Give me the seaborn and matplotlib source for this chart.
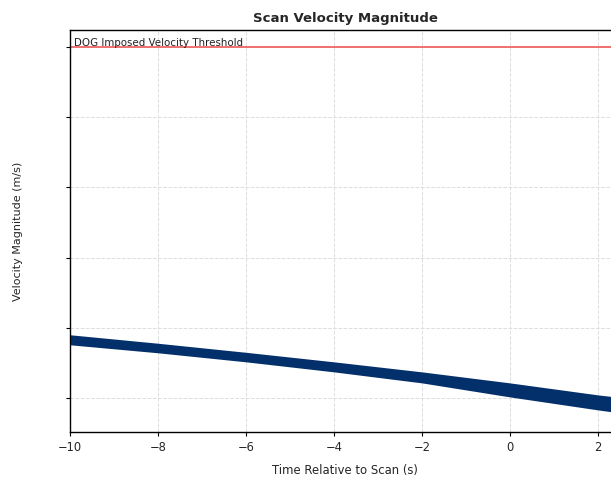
import matplotlib
matplotlib.use("Agg")
import matplotlib.pyplot as plt
import seaborn as sns
import pandas as pd

# data
time_s = [-10, -8, -6, -4, -2, 0, 2, 3]
vel_upper = [1.900, 1.779, 1.650, 1.514, 1.371, 1.214, 1.043, 0.971]
vel_lower = [1.757, 1.643, 1.514, 1.371, 1.214, 1.014, 0.829, 0.743]
threshold = 6.0
x_ticks = [-10, -8, -6, -4, -2, 0, 2]
y_ticks = [1, 2, 3, 4, 5, 6]

sns.set_theme(style="white")
plt.rcParams['font.family'] = ['DejaVu Sans']

df = pd.DataFrame({
    "t": time_s + time_s,
    "v": vel_upper + vel_lower,
})

fig = plt.figure(figsize=(6.11, 4.8), dpi=100)
ax = fig.add_axes([70/611, 48/480, 550/611, 402/480])

navy = "#03306b"
sns.lineplot(data=df, x="t", y="v", ax=ax, errorbar=("pi", 100),
             color=navy, linewidth=0.5, err_kws={"alpha": 1, "linewidth": 0})
ax.axhline(threshold, color="#f05a5a", linewidth=1.2)
ax.text(-9.9, threshold - 0.01, "DOG Imposed Velocity Threshold", fontsize=7.35,
        color="#222222", va="bottom", ha="left")

ax.set_xlim(-10, 2.5)
ax.set_ylim(1 - 34/70, 6 + 17/70)
ax.set_xticks(x_ticks)
ax.set_xticklabels([f"\u2212{abs(v)}" if v < 0 else str(v) for v in x_ticks], fontsize=8.3)
ax.set_yticks(y_ticks)
ax.set_yticklabels([])
ax.tick_params(axis="both", direction="out", length=3, width=0.8, color="black", bottom=True, left=True)
ax.grid(True, linestyle="--", color="#dddddd", linewidth=0.7)
for s in ax.spines.values():
    s.set_color("black")
    s.set_linewidth(1.0)
ax.set_title("Scan Velocity Magnitude", fontsize=9.5, fontweight="bold", pad=6)
ax.set_xlabel("Time Relative to Scan (s)", fontsize=8.4, labelpad=7)
ax.set_ylabel("Velocity Magnitude (m/s)", fontsize=8, labelpad=27)

fig.savefig("out.png", dpi=100)
